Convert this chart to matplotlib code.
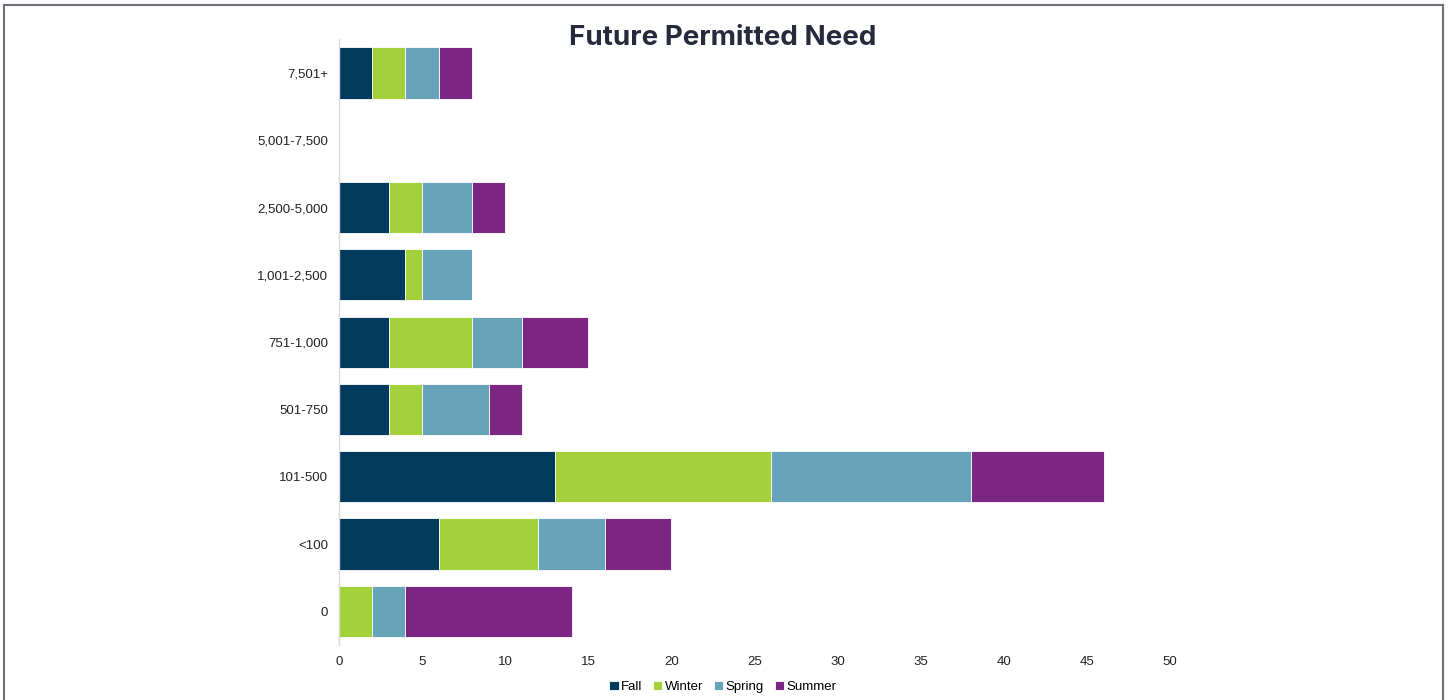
import numpy as np
import matplotlib.pyplot as plt
from matplotlib.patches import Rectangle

categories = ["0", "<100", "101-500", "501-750", "751-1,000", "1,001-2,500",
              "2,500-5,000", "5,001-7,500", "7,501+"]
fall = [0, 6, 13, 3, 3, 4, 3, 0, 2]
winter = [2, 6, 13, 2, 5, 1, 2, 0, 2]
spring = [2, 4, 12, 4, 3, 3, 3, 0, 2]
summer = [10, 4, 8, 2, 4, 0, 2, 0, 2]

series = ["Fall", "Winter", "Spring", "Summer"]
colors = ["#003a5d", "#a3d13b", "#67a3b9", "#7a2682"]

plt.rcParams['font.family'] = ['Liberation Sans', 'DejaVu Sans']

fig = plt.figure(figsize=(14.5, 7), dpi=100)
ax = fig.add_axes([0.2338, 0.0786, 0.5731, 0.8651])

y = np.arange(len(categories))
left = np.zeros(len(categories))
for name, vals, c in zip(series, [fall, winter, spring, summer], colors):
    vals = np.array(vals, dtype=float)
    ax.barh(y, vals, left=left, height=0.76, color=c, label=name,
            edgecolor='white', linewidth=0.6)
    left += vals

ax.set_xlim(0, 50)
ax.set_ylim(-0.5, len(categories) - 0.5)
ax.set_xticks(np.arange(0, 51, 5))
ax.set_yticks(y)
ax.set_yticklabels(categories)
ax.tick_params(length=0, labelsize=9.5, colors='#222222', pad=8)
ax.tick_params(axis='x', pad=8)
for s in ['top', 'right', 'bottom']:
    ax.spines[s].set_visible(False)
ax.spines['left'].set_color('#d9d9d9')
ax.spines['left'].set_linewidth(1)

fig.text(0.4986, 0.946, "Future Permitted Need", ha='center', va='center',
         fontsize=20, fontweight='bold', color='#262a3b',
         family=['Inter', 'DejaVu Sans'])

fig.legend(loc='center', bbox_to_anchor=(0.4986, 0.019), ncol=4, frameon=False,
           fontsize=9.5, handlelength=0.7, handleheight=0.7, handletextpad=0.2,
           columnspacing=0.8)

fig.patches.append(Rectangle((0.003, -0.05), 0.9925, 1.043, transform=fig.transFigure,
                             fill=False, edgecolor='#6e7079', linewidth=1.5))

fig.savefig("out.png", dpi=100)
